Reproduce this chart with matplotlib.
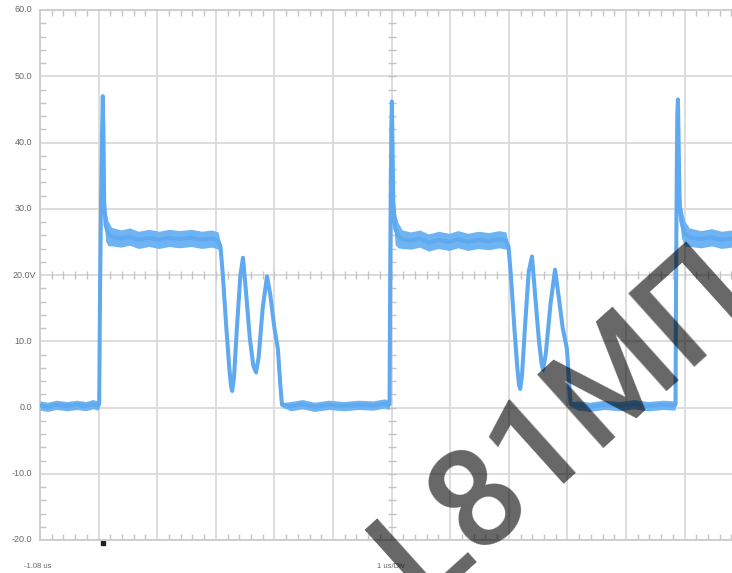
"""
Scope capture: switching node voltage, 1 us/div, 10 V/div
"""

import matplotlib

matplotlib.use("Agg")
import matplotlib.pyplot as plt
import matplotlib.transforms as mtransforms
import numpy as np
from matplotlib.ticker import FixedLocator, MultipleLocator

# %%
# Data read from the capture
# --------------------------
# time in us, trace centre in V. Each segment gets a noise half-width.

low1_t = [-1.08, -0.95, -0.8, -0.62, -0.45, -0.3, -0.18, -0.09]
low1_v = [0.3, 0.1, 0.4, 0.2, 0.4, 0.2, 0.5, 0.3]
edge1_t = [-0.07, -0.055, -0.04, -0.02, -0.008, 0.003, 0.015, 0.04, 0.08, 0.14]
edge1_v = [0.5, 18, 30, 42, 47, 41, 31, 27.5, 26.3, 25.8]
high1_t = [0.3, 0.45, 0.6, 0.78, 0.95, 1.12, 1.3, 1.5, 1.68, 1.85, 1.96]
high1_v = [25.5, 25.8, 25.3, 25.6, 25.3, 25.6, 25.4, 25.6, 25.3, 25.5, 25.2]
ring1_t = [2.0, 2.04, 2.1, 2.15, 2.18, 2.2, 2.23, 2.28, 2.34, 2.384, 2.43,
           2.5, 2.56, 2.606, 2.65, 2.72, 2.794, 2.85, 2.92, 2.98, 3.02, 3.05]
ring1_v = [24.3, 20, 12, 6, 3.2, 2.5, 4.5, 12, 20, 22.6, 18,
           10.5, 6.3, 5.3, 7.5, 15, 19.8, 17, 12, 8.8, 3.5, 0.4]

low2_t = [3.2, 3.4, 3.6, 3.85, 4.1, 4.35, 4.6, 4.8, 4.87]
low2_v = [0.2, 0.5, 0.1, 0.4, 0.2, 0.4, 0.3, 0.6, 0.4]
edge2_t = [4.885, 4.895, 4.905, 4.915, 4.925, 4.935, 4.95, 4.98, 5.03, 5.1]
edge2_v = [0.5, 18, 32, 42, 46.2, 40, 31, 27, 26.0, 25.4]
high2_t = [5.25, 5.4, 5.55, 5.72, 5.9, 6.05, 6.22, 6.4, 6.58, 6.75, 6.87]
high2_v = [25.2, 25.5, 24.9, 25.3, 25.0, 25.4, 25.0, 25.3, 25.1, 25.4, 25.2]
ring2_t = [6.915, 6.955, 7.015, 7.065, 7.095, 7.115, 7.145, 7.195, 7.26, 7.316,
           7.36, 7.43, 7.48, 7.504, 7.55, 7.63, 7.709, 7.76, 7.84, 7.913, 7.95,
           7.975]
ring2_v = [24.3, 20, 12, 6, 3.4, 2.8, 4.8, 12, 20.5, 22.8,
           18, 10.5, 6.6, 5.7, 8, 15.5, 20.8, 17.5, 12, 8.8, 3.5,
           0.5]

low3_t = [8.1, 8.3, 8.55, 8.8, 9.05, 9.3, 9.55, 9.75]
low3_v = [0.3, 0.1, 0.4, 0.2, 0.5, 0.2, 0.4, 0.3]
edge3_t = [9.765, 9.775, 9.785, 9.795, 9.806, 9.818, 9.835, 9.865, 9.92, 10.0]
edge3_v = [0.5, 20, 34, 44, 46.5, 40, 31, 28, 26.3, 25.7]
high3_t = [10.2, 10.38, 10.55, 10.72, 10.92]
high3_v = [25.4, 25.7, 25.3, 25.5, 25.4]

# noise half-width (V)
low_spread = 0.7
high_spread = 1.3
ring_spread = 0.35
edge_spread = [0.6, 0.5, 0.5, 0.3, 0.2, 0.4, 2.6, 2.4, 1.9, 1.4]

y_ticks = [-20, -10, 0, 10, 20, 30, 40, 50, 60]
t_start = -1.08  # left edge of the screen, us
n_div = 12  # horizontal divisions (right part is cropped)
trigger_t = 0.0
watermark = "L81МП"

# %%
# Build the trace
# ---------------

segments = [
    (low1_t, low1_v, low_spread), (edge1_t, edge1_v, edge_spread),
    (high1_t, high1_v, high_spread), (ring1_t, ring1_v, ring_spread),
    (low2_t, low2_v, low_spread), (edge2_t, edge2_v, edge_spread),
    (high2_t, high2_v, high_spread), (ring2_t, ring2_v, ring_spread),
    (low3_t, low3_v, low_spread), (edge3_t, edge3_v, edge_spread),
    (high3_t, high3_v, high_spread),
]
t = np.concatenate([seg[0] for seg in segments])
v = np.concatenate([seg[1] for seg in segments])
s = np.concatenate([np.broadcast_to(seg[2], len(seg[0])) for seg in segments])

# %%
# Figure
# ------

W, H = 732, 573
fig = plt.figure(figsize=(W / 100, H / 100), dpi=100)
ax = fig.add_axes([40 / W, 33 / H, 703.2 / W, 530 / H])

ax.set_xlim(t_start, t_start + n_div)
ax.set_ylim(y_ticks[0], y_ticks[-1])

grid_c = "#dadada"
tick_c = "#c4c4c4"
ax.xaxis.set_major_locator(FixedLocator(t_start + np.arange(0, n_div + 1)))
ax.xaxis.set_minor_locator(FixedLocator(t_start + np.arange(0, n_div, 0.2)))
ax.yaxis.set_major_locator(FixedLocator(y_ticks))
ax.yaxis.set_minor_locator(MultipleLocator(2))
ax.grid(which="major", color=grid_c, linewidth=1.3)
ax.set_axisbelow(True)

ax.tick_params(which="major", length=0, labelleft=False, labelbottom=False)
ax.tick_params(which="minor", direction="in", length=4, width=1,
               color=tick_c, top=True, bottom=True, left=True)

for side in ("left", "top", "bottom"):
    ax.spines[side].set_color("#cccccc")
    ax.spines[side].set_linewidth(1.3)
ax.spines["right"].set_visible(False)

# centre cross with small ticks
t_mid = t_start + n_div / 2
y_mid = 20
ax.plot(np.full(41, t_mid), np.arange(-20, 61, 2), ls="none", marker="_",
        ms=6, mew=1, color=tick_c, zorder=1)
ax.plot(t_start + np.arange(0, n_div, 0.2), np.full(60, y_mid), ls="none",
        marker="|", ms=6, mew=1, color=tick_c, zorder=1)

# trace
ax.fill_between(t, v - s, v + s, color="#6fb4f2", linewidth=0, zorder=3)
ax.plot(t, v, color="#5ea9ef", linewidth=2.9, solid_joinstyle="round",
        solid_capstyle="round", zorder=4)

# y labels (left of the frame)
lab_tr = mtransforms.blended_transform_factory(fig.transFigure, ax.transData)
for yv in y_ticks:
    if yv == y_mid:
        ax.text(13 / W, yv, f"{yv:.1f}V", transform=lab_tr, ha="left",
                va="center", fontsize=6.5, color="#666666",
                family="Liberation Sans")
    else:
        ax.text(32 / W, yv, f"{yv:.1f}", transform=lab_tr, ha="right",
                va="center", fontsize=6.5, color="#666666",
                family="Liberation Sans")

# bottom labels
fig.text(24 / W, 1 - 566 / H, f"{t_start:.2f} us", ha="left", va="center",
         fontsize=5.5, color="#666666", family="Liberation Sans")
fig.text(391 / W, 1 - 566 / H, "1 us/Div", ha="center", va="center",
         fontsize=5.5, color="#666666", family="Liberation Sans")

# trigger marker
trig_tr = mtransforms.blended_transform_factory(ax.transData, fig.transFigure)
ax.plot([trigger_t], [1 - 543 / H], transform=trig_tr, marker="s", ms=2.2,
        color="#222222", clip_on=False)

# watermark (runs off the bottom and right edges, as in the capture)
fig.text(564 / W, 1 - 423 / H, watermark, rotation=42, ha="center",
         va="center", rotation_mode="anchor", fontsize=100,
         fontweight="medium", family="Roboto", color="black", alpha=0.6,
         zorder=10)

fig.savefig("out.png", dpi=100)
